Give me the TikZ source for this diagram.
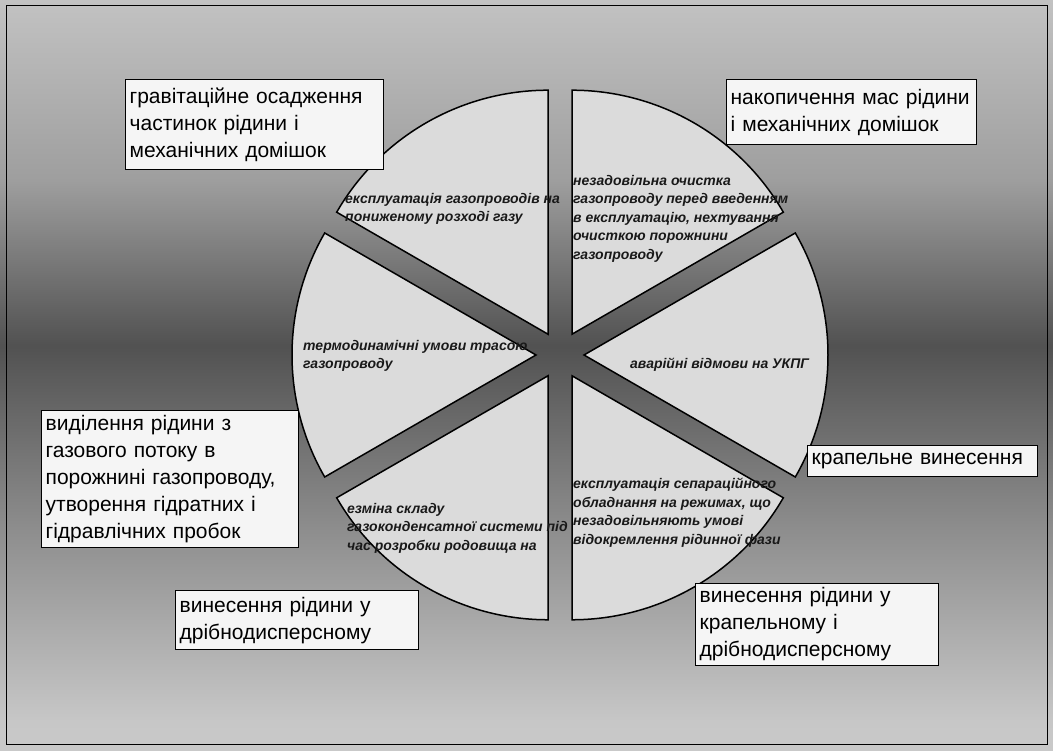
\documentclass[tikz,border=0pt]{standalone}
\usepackage{fontspec}
\setmainfont{Liberation Sans}
\pgfdeclareverticalshading{bgshade}{100bp}{color(0bp)=(black!8); color(27bp)=(black!22); color(40bp)=(black!45); color(52bp)=(black!68); color(63bp)=(black!38); color(80bp)=(black!18); color(100bp)=(black!9)}
\begin{document}
\begin{tikzpicture}[x=1pt,y=1pt,
  sector/.style={draw=black,line width=1.5pt,fill=black!14},
  causebox/.style={draw=black,line width=1.3pt,fill=black!4,anchor=north west,
    align=left,inner sep=4pt,font=\fontsize{21}{27}\selectfont},
  cause/.style={anchor=north west,align=left,inner sep=0pt,text=black!90,
    font=\fontsize{14}{18.5}\selectfont\bfseries\itshape}]
  \useasboundingbox (0,0) rectangle (1053,751);
  \shade[shading=bgshade] (0,0) rectangle (1053,751);
  \draw[line width=1pt] (6,6) rectangle (1047,745);
  \coordinate (c) at (560,396);
  \foreach \a in {0,60,...,300}
   \filldraw[sector] ([shift={(\a:24)}]c) -- ++(\a-30:244)
     arc[start angle=\a-30,end angle=\a+30,radius=244] -- cycle;
  \node[cause] (tUL) at (345,558) {експлуатація газопроводів на\\пониженому розході газу};
  \node[cause] (tUR) at (573,576) {незадовільна очистка\\газопроводу перед введенням\\в експлуатацію, нехтування\\очисткою порожнини\\газопроводу};
  \node[cause] (tL)  at (303,411) {термодинамічні умови трасою\\газопроводу};
  \node[cause] (tR)  at (630,393) {аварійні відмови на УКПГ};
  \node[cause] (tLL) at (347,248) {езміна складу\\газоконденсатної системи під\\час розробки родовища на};
  \node[cause] (tLR) at (573,273) {експлуатація сепараційного\\обладнання на режимах, що\\незадовільняють умові\\відокремлення рідинної фази};
  \node[causebox,text width=250pt,minimum height=90pt]  (gravity)  at (125,672) {гравітаційне осадження\\частинок рідини і\\механічних домішок};
  \node[causebox,text width=242pt,minimum height=65pt]  (accum)    at (726,672) {накопичення мас рідини\\і механічних домішок};
  \node[causebox,text width=249pt,minimum height=137pt] (release)  at (41,341)  {виділення рідини з\\газового потоку в\\порожнині газопроводу,\\утворення гідратних і\\гідравлічних пробок};
  \node[causebox,text width=222pt,minimum height=31pt]  (drip)     at (807,306) {крапельне винесення};
  \node[causebox,text width=235pt,minimum height=59pt]  (fine)     at (175,161) {винесення рідини у\\дрібнодисперсному};
  \node[causebox,text width=235pt,minimum height=81pt]  (dripfine) at (695,168) {винесення рідини у\\крапельному і\\дрібнодисперсному};
\end{tikzpicture}
\end{document}
